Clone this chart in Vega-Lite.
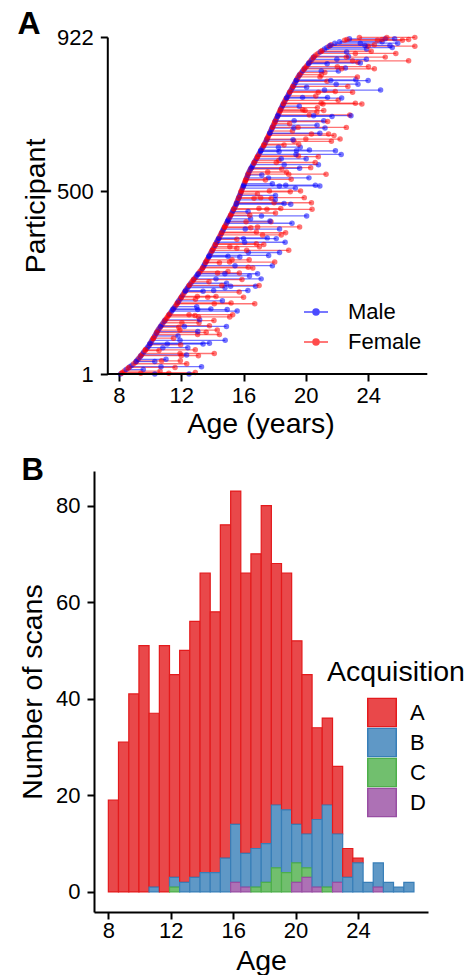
{
  "$schema": "https://vega.github.io/schema/vega-lite/v6.json",
  "padding": {"left": 17, "top": 8, "right": 0, "bottom": 0},
  "background": "white",
  "config": {
    "font": "Liberation Sans",
    "view": {"stroke": null},
    "axis": {"grid": false, "domainColor": "black", "domainWidth": 2, "tickColor": "black", "tickWidth": 2, "tickSize": 7, "labelFontSize": 22, "labelColor": "black", "labelPadding": 7, "titleFontSize": 28.5, "titleFontWeight": "normal", "titleColor": "black", "labelFlush": false, "labelOverlap": false},
    "axisY": {"titlePadding": 6},
    "legend": {"labelFontSize": 22, "labelColor": "black", "titleFontSize": 28.5, "titleFontWeight": "normal", "titleColor": "black", "padding": 0}
  },
  "datasets": {
    "parts": [
      {"p":1,"s":"Male","a":[8.10,10.3,12.5]},
      {"p":5,"s":"Female","a":[8.22,12.9]},
      {"p":9,"s":"Female","a":[8.34,10.64]},
      {"p":13,"s":"Male","a":[8.46,9.56]},
      {"p":17,"s":"Female","a":[8.58]},
      {"p":21,"s":"Male","a":[8.70,10.70,13.30]},
      {"p":25,"s":"Male","a":[8.83]},
      {"p":29,"s":"Female","a":[8.95,12.35]},
      {"p":33,"s":"Female","a":[9.07]},
      {"p":37,"s":"Female","a":[9.14,10.74,11.94]},
      {"p":41,"s":"Male","a":[9.22,11.02]},
      {"p":45,"s":"Female","a":[9.29]},
      {"p":49,"s":"Male","a":[9.37]},
      {"p":53,"s":"Male","a":[9.44,12.34]},
      {"p":57,"s":"Female","a":[9.52,11.92,14.12]},
      {"p":61,"s":"Male","a":[9.59]},
      {"p":65,"s":"Female","a":[9.67,10.57]},
      {"p":69,"s":"Female","a":[9.74]},
      {"p":73,"s":"Male","a":[9.82,10.82,12.42]},
      {"p":77,"s":"Male","a":[9.89]},
      {"p":81,"s":"Female","a":[9.96,11.96]},
      {"p":85,"s":"Male","a":[10.01,13.81]},
      {"p":89,"s":"Female","a":[10.07]},
      {"p":93,"s":"Male","a":[10.12,11.92,14.82]},
      {"p":97,"s":"Female","a":[10.18]},
      {"p":101,"s":"Female","a":[10.24]},
      {"p":105,"s":"Male","a":[10.29,11.79]},
      {"p":109,"s":"Female","a":[10.35,13.05,14.45]},
      {"p":113,"s":"Male","a":[10.40]},
      {"p":117,"s":"Male","a":[10.46,13.06]},
      {"p":121,"s":"Female","a":[10.51,11.91,14.31]},
      {"p":125,"s":"Male","a":[10.57]},
      {"p":129,"s":"Female","a":[10.64,11.84]},
      {"p":133,"s":"Female","a":[10.71,13.81]},
      {"p":137,"s":"Male","a":[10.77]},
      {"p":141,"s":"Female","a":[10.84,12.04,13.14]},
      {"p":145,"s":"Male","a":[10.91]},
      {"p":149,"s":"Male","a":[10.98,13.18]},
      {"p":153,"s":"Female","a":[11.05]},
      {"p":157,"s":"Female","a":[11.11,13.11,15.11]},
      {"p":161,"s":"Female","a":[11.18,12.88]},
      {"p":165,"s":"Male","a":[11.25]},
      {"p":169,"s":"Female","a":[11.32]},
      {"p":173,"s":"Male","a":[11.39,15.59]},
      {"p":177,"s":"Male","a":[11.45,13.05,14.95]},
      {"p":181,"s":"Female","a":[11.52]},
      {"p":185,"s":"Male","a":[11.59,12.99]},
      {"p":189,"s":"Female","a":[11.66]},
      {"p":193,"s":"Female","a":[11.72,14.12,16.72]},
      {"p":197,"s":"Male","a":[11.78]},
      {"p":201,"s":"Male","a":[11.84,14.64]},
      {"p":205,"s":"Female","a":[11.91,12.91]},
      {"p":209,"s":"Male","a":[11.97]},
      {"p":213,"s":"Female","a":[12.03,13.03,14.23]},
      {"p":217,"s":"Male","a":[12.09]},
      {"p":221,"s":"Female","a":[12.16]},
      {"p":225,"s":"Female","a":[12.22,15.72]},
      {"p":229,"s":"Male","a":[12.28,14.08,16.28]},
      {"p":233,"s":"Female","a":[12.34]},
      {"p":237,"s":"Male","a":[12.41,14.81]},
      {"p":241,"s":"Male","a":[12.47,15.17,16.77]},
      {"p":245,"s":"Female","a":[12.54]},
      {"p":249,"s":"Male","a":[12.61,14.91]},
      {"p":253,"s":"Female","a":[12.68,13.78]},
      {"p":257,"s":"Female","a":[12.76]},
      {"p":261,"s":"Male","a":[12.83,14.23,17.13]},
      {"p":265,"s":"Female","a":[12.91]},
      {"p":269,"s":"Male","a":[12.98,16.38]},
      {"p":273,"s":"Male","a":[13.05]},
      {"p":277,"s":"Female","a":[13.13,14.33,15.73]},
      {"p":281,"s":"Female","a":[13.20,15.00]},
      {"p":285,"s":"Female","a":[13.28]},
      {"p":289,"s":"Male","a":[13.35]},
      {"p":293,"s":"Female","a":[13.40,16.30]},
      {"p":297,"s":"Male","a":[13.45,15.45,17.85]},
      {"p":301,"s":"Male","a":[13.50]},
      {"p":305,"s":"Female","a":[13.55,14.45]},
      {"p":309,"s":"Male","a":[13.61]},
      {"p":313,"s":"Female","a":[13.66,15.26,16.36]},
      {"p":317,"s":"Female","a":[13.71]},
      {"p":321,"s":"Male","a":[13.76,15.76]},
      {"p":325,"s":"Male","a":[13.81,17.61]},
      {"p":329,"s":"Female","a":[13.86]},
      {"p":333,"s":"Male","a":[13.91,16.31,18.31]},
      {"p":337,"s":"Female","a":[13.96]},
      {"p":341,"s":"Male","a":[14.02]},
      {"p":345,"s":"Female","a":[14.07,15.57]},
      {"p":349,"s":"Female","a":[14.12,15.12,17.02]},
      {"p":353,"s":"Male","a":[14.17]},
      {"p":357,"s":"Female","a":[14.22,16.82]},
      {"p":361,"s":"Male","a":[14.27,16.07,18.67]},
      {"p":365,"s":"Male","a":[14.32]},
      {"p":369,"s":"Female","a":[14.37,15.57]},
      {"p":373,"s":"Male","a":[14.42,17.52]},
      {"p":377,"s":"Female","a":[14.47]},
      {"p":381,"s":"Female","a":[14.52,17.22,18.42]},
      {"p":385,"s":"Male","a":[14.57]},
      {"p":389,"s":"Female","a":[14.62,16.82]},
      {"p":393,"s":"Male","a":[14.67]},
      {"p":397,"s":"Male","a":[14.71,16.11,18.31]},
      {"p":401,"s":"Female","a":[14.76,16.46]},
      {"p":405,"s":"Female","a":[14.81]},
      {"p":409,"s":"Female","a":[14.86]},
      {"p":413,"s":"Male","a":[14.91,19.11]},
      {"p":417,"s":"Female","a":[14.96,16.16,17.76]},
      {"p":421,"s":"Male","a":[15.01]},
      {"p":425,"s":"Male","a":[15.05,16.45]},
      {"p":429,"s":"Female","a":[15.10]},
      {"p":433,"s":"Male","a":[15.15,17.15,20.05]},
      {"p":437,"s":"Female","a":[15.20]},
      {"p":441,"s":"Female","a":[15.25,18.05]},
      {"p":445,"s":"Male","a":[15.29,16.29]},
      {"p":449,"s":"Male","a":[15.34]},
      {"p":453,"s":"Female","a":[15.39,16.99,18.39]},
      {"p":457,"s":"Male","a":[15.44]},
      {"p":461,"s":"Female","a":[15.49]},
      {"p":465,"s":"Male","a":[15.53,19.03]},
      {"p":469,"s":"Female","a":[15.56,17.96,20.36]},
      {"p":473,"s":"Female","a":[15.60]},
      {"p":477,"s":"Male","a":[15.64,18.04]},
      {"p":481,"s":"Female","a":[15.67,16.67,17.77]},
      {"p":485,"s":"Male","a":[15.71]},
      {"p":489,"s":"Male","a":[15.75,18.05]},
      {"p":493,"s":"Female","a":[15.79,16.89]},
      {"p":497,"s":"Male","a":[15.82]},
      {"p":501,"s":"Female","a":[15.86,17.66,19.66]},
      {"p":505,"s":"Female","a":[15.90]},
      {"p":509,"s":"Male","a":[15.93,19.33]},
      {"p":513,"s":"Female","a":[15.97]},
      {"p":517,"s":"Male","a":[16.01,18.71,20.61]},
      {"p":521,"s":"Male","a":[16.05,17.85]},
      {"p":525,"s":"Female","a":[16.08]},
      {"p":529,"s":"Female","a":[16.12]},
      {"p":533,"s":"Female","a":[16.16,19.06]},
      {"p":537,"s":"Male","a":[16.20,17.60,20.20]},
      {"p":541,"s":"Female","a":[16.23]},
      {"p":545,"s":"Male","a":[16.27,17.17]},
      {"p":549,"s":"Male","a":[16.31]},
      {"p":553,"s":"Female","a":[16.35,17.55,18.75]},
      {"p":557,"s":"Male","a":[16.40]},
      {"p":561,"s":"Female","a":[16.45,18.45]},
      {"p":565,"s":"Female","a":[16.51,20.31]},
      {"p":569,"s":"Male","a":[16.56]},
      {"p":573,"s":"Male","a":[16.61,18.61,20.81]},
      {"p":577,"s":"Female","a":[16.66]},
      {"p":581,"s":"Male","a":[16.71]},
      {"p":585,"s":"Female","a":[16.77,18.27]},
      {"p":589,"s":"Male","a":[16.82,18.42,20.02]},
      {"p":593,"s":"Female","a":[16.87]},
      {"p":597,"s":"Female","a":[16.92,19.52]},
      {"p":601,"s":"Male","a":[16.97,19.37,22.27]},
      {"p":605,"s":"Female","a":[17.03]},
      {"p":609,"s":"Male","a":[17.08,18.28]},
      {"p":613,"s":"Male","a":[17.13,20.23]},
      {"p":617,"s":"Female","a":[17.18]},
      {"p":621,"s":"Male","a":[17.24,18.24,19.64]},
      {"p":625,"s":"Female","a":[17.29]},
      {"p":629,"s":"Female","a":[17.34,19.54]},
      {"p":633,"s":"Male","a":[17.39]},
      {"p":637,"s":"Female","a":[17.44,19.24,21.64]},
      {"p":641,"s":"Male","a":[17.48,19.18]},
      {"p":645,"s":"Male","a":[17.53]},
      {"p":649,"s":"Female","a":[17.57]},
      {"p":653,"s":"Female","a":[17.61,21.81]},
      {"p":657,"s":"Female","a":[17.66,20.36,21.46]},
      {"p":661,"s":"Male","a":[17.70]},
      {"p":665,"s":"Female","a":[17.74,19.14]},
      {"p":669,"s":"Male","a":[17.79]},
      {"p":673,"s":"Male","a":[17.83,19.23,21.23]},
      {"p":677,"s":"Female","a":[17.87]},
      {"p":681,"s":"Male","a":[17.92,20.72]},
      {"p":685,"s":"Female","a":[17.96,18.96]},
      {"p":689,"s":"Female","a":[18.00]},
      {"p":693,"s":"Male","a":[18.05,19.25,21.15]},
      {"p":697,"s":"Male","a":[18.09]},
      {"p":701,"s":"Female","a":[18.13]},
      {"p":705,"s":"Male","a":[18.18,21.68]},
      {"p":709,"s":"Female","a":[18.22,20.22,22.82]},
      {"p":713,"s":"Male","a":[18.26]},
      {"p":717,"s":"Female","a":[18.31,20.71]},
      {"p":721,"s":"Female","a":[18.35,19.95,21.15]},
      {"p":725,"s":"Male","a":[18.39]},
      {"p":729,"s":"Female","a":[18.44,20.74]},
      {"p":733,"s":"Male","a":[18.48,19.58]},
      {"p":737,"s":"Male","a":[18.53]},
      {"p":741,"s":"Female","a":[18.58,20.98,23.18]},
      {"p":745,"s":"Male","a":[18.63]},
      {"p":749,"s":"Female","a":[18.68,22.08]},
      {"p":753,"s":"Female","a":[18.73]},
      {"p":757,"s":"Male","a":[18.79,19.79,21.39]},
      {"p":761,"s":"Female","a":[18.84,20.64]},
      {"p":765,"s":"Male","a":[18.89]},
      {"p":769,"s":"Male","a":[18.94]},
      {"p":773,"s":"Female","a":[18.99,21.89]},
      {"p":777,"s":"Male","a":[19.05,21.2,24.8]},
      {"p":781,"s":"Female","a":[19.10]},
      {"p":785,"s":"Male","a":[19.15,20.05]},
      {"p":789,"s":"Female","a":[19.20]},
      {"p":793,"s":"Male","a":[19.25,21.95,23.35]},
      {"p":797,"s":"Male","a":[19.31]},
      {"p":801,"s":"Female","a":[19.36,21.36]},
      {"p":805,"s":"Male","a":[19.41,23.21]},
      {"p":809,"s":"Female","a":[19.46]},
      {"p":813,"s":"Female","a":[19.51,20.91,23.31]},
      {"p":817,"s":"Male","a":[19.57]},
      {"p":821,"s":"Male","a":[19.64]},
      {"p":825,"s":"Female","a":[19.72,21.22]},
      {"p":829,"s":"Male","a":[19.79,20.99,22.09]},
      {"p":833,"s":"Female","a":[19.87]},
      {"p":837,"s":"Male","a":[19.94,22.54]},
      {"p":841,"s":"Female","a":[20.02,22.02,24.02]},
      {"p":845,"s":"Female","a":[20.09]},
      {"p":849,"s":"Male","a":[20.17,21.37]},
      {"p":853,"s":"Female","a":[20.24,23.34]},
      {"p":857,"s":"Female","a":[20.32,23.0,26.6]},
      {"p":861,"s":"Male","a":[20.39,21.99,23.89]},
      {"p":865,"s":"Female","a":[20.47]},
      {"p":869,"s":"Male","a":[20.54,22.74]},
      {"p":873,"s":"Female","a":[20.64]},
      {"p":877,"s":"Female","a":[20.78,23.18,25.78]},
      {"p":881,"s":"Male","a":[20.92,22.62]},
      {"p":885,"s":"Female","a":[21.06]},
      {"p":889,"s":"Male","a":[21.20,23.9]},
      {"p":893,"s":"Male","a":[21.35,25.55]},
      {"p":897,"s":"Female","a":[21.49,24.0,27.0]},
      {"p":901,"s":"Female","a":[21.63,24.4]},
      {"p":905,"s":"Male","a":[21.86,23.5,25.9]},
      {"p":909,"s":"Male","a":[22.17,24.9]},
      {"p":913,"s":"Female","a":[22.49,24.6,26.2]},
      {"p":917,"s":"Male","a":[22.80,25.1,25.7]},
      {"p":921,"s":"Female","a":[23.44,25.2,27.0]},
      {"p":3,"s":"Female","a":[8.16,9.4,11.2]},
      {"p":19,"s":"Female","a":[8.64,11.6]},
      {"p":35,"s":"Male","a":[9.10,10.3]},
      {"p":51,"s":"Female","a":[9.40,12.0,13.1]},
      {"p":67,"s":"Female","a":[9.70,12.9]},
      {"p":83,"s":"Male","a":[9.98,11.1,13.4]},
      {"p":99,"s":"Female","a":[10.21,11.5]},
      {"p":115,"s":"Female","a":[10.43,13.6]},
      {"p":131,"s":"Male","a":[10.67,12.2,14.9]},
      {"p":147,"s":"Female","a":[10.94,14.1]},
      {"p":163,"s":"Female","a":[11.21,12.5,15.3]},
      {"p":179,"s":"Male","a":[11.49,13.9]},
      {"p":195,"s":"Female","a":[11.75,15.2]},
      {"p":211,"s":"Female","a":[12.00,13.7,16.0]},
      {"p":227,"s":"Male","a":[12.25,13.4]},
      {"p":243,"s":"Female","a":[12.50,14.6,17.0]},
      {"p":259,"s":"Female","a":[12.79,15.9]},
      {"p":275,"s":"Male","a":[13.09,14.8,16.9]},
      {"p":291,"s":"Female","a":[13.37,16.6]},
      {"p":307,"s":"Female","a":[13.58,15.1,18.0]},
      {"p":323,"s":"Male","a":[13.78,15.0]},
      {"p":339,"s":"Female","a":[13.99,16.2,18.9]},
      {"p":355,"s":"Female","a":[14.19,17.3]},
      {"p":371,"s":"Male","a":[14.40,16.0,18.1]},
      {"p":387,"s":"Female","a":[14.59,18.7]},
      {"p":403,"s":"Female","a":[14.78,16.9,19.6]},
      {"p":419,"s":"Male","a":[14.98,17.7]},
      {"p":435,"s":"Female","a":[15.17,16.4]},
      {"p":451,"s":"Female","a":[15.36,17.5,20.4]},
      {"p":467,"s":"Male","a":[15.54,18.6]},
      {"p":483,"s":"Female","a":[15.69,17.1,19.9]},
      {"p":499,"s":"Female","a":[15.84,19.0]},
      {"p":515,"s":"Male","a":[15.99,18.3,20.9]},
      {"p":531,"s":"Female","a":[16.14,17.4]},
      {"p":547,"s":"Female","a":[16.29,18.9,21.3]},
      {"p":563,"s":"Male","a":[16.48,19.6]},
      {"p":579,"s":"Female","a":[16.68,18.1,20.6]},
      {"p":595,"s":"Female","a":[16.89,20.8]},
      {"p":611,"s":"Male","a":[17.10,19.4,21.9]},
      {"p":627,"s":"Female","a":[17.31,18.6]},
      {"p":643,"s":"Female","a":[17.50,20.0,22.2]},
      {"p":659,"s":"Male","a":[17.68,20.9]},
      {"p":675,"s":"Female","a":[17.85,19.5,22.6]},
      {"p":691,"s":"Female","a":[18.02,21.4]},
      {"p":707,"s":"Male","a":[18.20,20.5,22.9]},
      {"p":723,"s":"Female","a":[18.37,19.8]},
      {"p":739,"s":"Female","a":[18.55,21.1,23.6]},
      {"p":755,"s":"Male","a":[18.76,22.3]},
      {"p":771,"s":"Female","a":[18.96,20.8,23.0]},
      {"p":787,"s":"Female","a":[19.17,22.7]},
      {"p":803,"s":"Male","a":[19.38,21.6,24.0]},
      {"p":819,"s":"Female","a":[19.60,21.0]},
      {"p":835,"s":"Female","a":[19.90,22.3,24.4]},
      {"p":851,"s":"Male","a":[20.20,23.5]},
      {"p":867,"s":"Female","a":[20.50,22.6,25.1]},
      {"p":883,"s":"Female","a":[20.99,24.2]},
      {"p":899,"s":"Male","a":[21.56,23.8,25.4]},
      {"p":915,"s":"Female","a":[22.64,24.9,26.6]}
    ],
    "hist": [
      {"x0":8.00,"x1":8.65,"g":"A","n":19},
      {"x0":8.65,"x1":9.31,"g":"A","n":31},
      {"x0":9.31,"x1":9.96,"g":"A","n":41},
      {"x0":9.96,"x1":10.61,"g":"A","n":51},
      {"x0":10.61,"x1":11.27,"g":"A","n":36},
      {"x0":10.61,"x1":11.27,"g":"B","n":1},
      {"x0":11.27,"x1":11.92,"g":"A","n":51},
      {"x0":11.92,"x1":12.57,"g":"A","n":42},
      {"x0":11.92,"x1":12.57,"g":"B","n":2},
      {"x0":11.92,"x1":12.57,"g":"C","n":1},
      {"x0":12.57,"x1":13.22,"g":"A","n":48},
      {"x0":12.57,"x1":13.22,"g":"B","n":2},
      {"x0":13.22,"x1":13.88,"g":"A","n":53},
      {"x0":13.22,"x1":13.88,"g":"B","n":3},
      {"x0":13.88,"x1":14.53,"g":"A","n":62},
      {"x0":13.88,"x1":14.53,"g":"B","n":4},
      {"x0":14.53,"x1":15.18,"g":"A","n":54},
      {"x0":14.53,"x1":15.18,"g":"B","n":4},
      {"x0":15.18,"x1":15.84,"g":"A","n":69},
      {"x0":15.18,"x1":15.84,"g":"B","n":7},
      {"x0":15.84,"x1":16.49,"g":"A","n":69},
      {"x0":15.84,"x1":16.49,"g":"B","n":12},
      {"x0":15.84,"x1":16.49,"g":"D","n":2},
      {"x0":16.49,"x1":17.14,"g":"A","n":58},
      {"x0":16.49,"x1":17.14,"g":"B","n":7},
      {"x0":16.49,"x1":17.14,"g":"D","n":1},
      {"x0":17.14,"x1":17.80,"g":"A","n":61},
      {"x0":17.14,"x1":17.80,"g":"B","n":8},
      {"x0":17.14,"x1":17.80,"g":"C","n":1},
      {"x0":17.80,"x1":18.45,"g":"A","n":70},
      {"x0":17.80,"x1":18.45,"g":"B","n":8},
      {"x0":17.80,"x1":18.45,"g":"C","n":2},
      {"x0":18.45,"x1":19.10,"g":"A","n":50},
      {"x0":18.45,"x1":19.10,"g":"B","n":13},
      {"x0":18.45,"x1":19.10,"g":"C","n":5},
      {"x0":19.10,"x1":19.75,"g":"A","n":49},
      {"x0":19.10,"x1":19.75,"g":"B","n":13},
      {"x0":19.10,"x1":19.75,"g":"C","n":4},
      {"x0":19.75,"x1":20.41,"g":"A","n":38},
      {"x0":19.75,"x1":20.41,"g":"B","n":8},
      {"x0":19.75,"x1":20.41,"g":"C","n":4},
      {"x0":19.75,"x1":20.41,"g":"D","n":2},
      {"x0":20.41,"x1":21.06,"g":"A","n":33},
      {"x0":20.41,"x1":21.06,"g":"B","n":7},
      {"x0":20.41,"x1":21.06,"g":"C","n":2},
      {"x0":20.41,"x1":21.06,"g":"D","n":3},
      {"x0":21.06,"x1":21.71,"g":"A","n":19},
      {"x0":21.06,"x1":21.71,"g":"B","n":14},
      {"x0":21.06,"x1":21.71,"g":"D","n":1},
      {"x0":21.71,"x1":22.37,"g":"A","n":18},
      {"x0":21.71,"x1":22.37,"g":"B","n":17},
      {"x0":21.71,"x1":22.37,"g":"C","n":1},
      {"x0":22.37,"x1":23.02,"g":"A","n":14},
      {"x0":22.37,"x1":23.02,"g":"B","n":10},
      {"x0":22.37,"x1":23.02,"g":"D","n":2},
      {"x0":23.02,"x1":23.67,"g":"A","n":6},
      {"x0":23.02,"x1":23.67,"g":"B","n":3},
      {"x0":23.67,"x1":24.33,"g":"A","n":1},
      {"x0":23.67,"x1":24.33,"g":"B","n":6},
      {"x0":24.33,"x1":24.98,"g":"B","n":2},
      {"x0":24.98,"x1":25.63,"g":"B","n":5},
      {"x0":24.98,"x1":25.63,"g":"D","n":1},
      {"x0":25.63,"x1":26.28,"g":"B","n":2},
      {"x0":26.28,"x1":26.94,"g":"B","n":1},
      {"x0":26.94,"x1":27.59,"g":"B","n":2}
    ]
  },
  "spacing": 17,
  "resolve": {
    "scale": {"color": "independent", "fill": "independent", "stroke": "independent"},
    "legend": {"color": "independent", "fill": "independent", "stroke": "independent"}
  },
  "vconcat": [
    {
      "width": 333.3,
      "height": 337,
      "title": {"text": "A", "anchor": "start", "frame": "bounds", "fontSize": 32, "fontWeight": "bold", "color": "black", "offset": -15, "dx": -4},
      "layer": [
        {
          "data": {"name": "parts"},
          "transform": [{"flatten": ["a"]}],
          "encoding": {
            "x": {"field": "a", "type": "quantitative", "scale": {"domain": [6.395, 27.8], "nice": false, "zero": false}, "axis": {"values": [8, 12, 16, 20, 24], "title": "Age (years)", "labelPadding": 4, "titlePadding": 3, "domain": false}},
            "y": {"field": "p", "type": "quantitative", "scale": {"domain": [1, 922], "nice": false, "zero": false}, "axis": {"values": [1, 500, 922], "title": "Participant", "offset": -13.3}},
            "color": {
              "field": "s", "type": "nominal",
              "scale": {"domain": ["Male", "Female"], "range": ["#0000ff", "#ff0000"]},
              "legend": {"title": null, "orient": "none", "legendX": 209, "legendY": 262, "symbolType": "M-1,0H1M-0.25,0A0.25,0.25,0,1,1,0.25,0A0.25,0.25,0,1,1,-0.25,0Z", "symbolSize": 576, "symbolStrokeWidth": 1.5, "symbolOpacity": 0.7, "labelOffset": 19, "rowPadding": 6, "labelFontSize": 22}
            }
          },
          "layer": [
            {"mark": {"type": "line", "strokeWidth": 1.3, "opacity": 0.55}, "encoding": {"detail": {"field": "p", "type": "nominal"}}},
            {"mark": {"type": "point", "filled": true, "size": 30, "opacity": 0.55}}
          ]
        },
        {
          "data": {"values": [{}]},
          "mark": {"type": "rule", "color": "black", "strokeWidth": 2},
          "encoding": {
            "x": {"datum": 7.25, "type": "quantitative"},
            "x2": {"datum": 27.8},
            "y": {"datum": 1, "type": "quantitative"}
          }
        }
      ]
    },
    {
      "width": 334,
      "height": 441,
      "title": {"text": "B", "anchor": "start", "frame": "bounds", "fontSize": 31, "fontWeight": "bold", "color": "black", "offset": -16, "dx": 3},
      "data": {"name": "hist"},
      "transform": [{"stack": "n", "groupby": ["x0"], "sort": [{"field": "g", "order": "descending"}], "as": ["y0", "y1"]}],
      "mark": {"type": "bar", "strokeWidth": 1.2},
      "encoding": {
        "x": {"field": "x0", "type": "quantitative", "scale": {"domain": [7.08, 28.49], "nice": false, "zero": false}, "axis": {"values": [8, 12, 16, 20, 24], "title": "Age", "labelPadding": 1, "titlePadding": 5}},
        "x2": {"field": "x1"},
        "y": {"field": "y0", "type": "quantitative", "scale": {"domain": [-4.15, 87.15], "nice": false, "zero": false}, "axis": {"values": [0, 20, 40, 60, 80], "title": "Number of scans", "titlePadding": 8}},
        "y2": {"field": "y1"},
        "fill": {
          "field": "g", "type": "nominal",
          "scale": {"domain": ["A", "B", "C", "D"], "range": ["#e9484a", "#5f98c6", "#71bf6e", "#ad71b5"]},
          "legend": {"title": "Acquisition", "orient": "none", "legendX": 233, "legendY": 187, "symbolType": "square", "symbolSize": 812, "symbolStrokeWidth": 1.5, "labelOffset": 13, "rowPadding": 0, "clipHeight": 30, "titleAnchor": "middle", "titleAlign": "center", "titlePadding": 11, "titleFontSize": 28.5, "labelFontSize": 22}
        },
        "stroke": {
          "field": "g", "type": "nominal",
          "scale": {"domain": ["A", "B", "C", "D"], "range": ["#e41a1c", "#377eb8", "#4daf4a", "#984ea3"]},
          "legend": {"title": "Acquisition", "orient": "none", "legendX": 233, "legendY": 187, "symbolType": "square", "symbolSize": 812, "symbolStrokeWidth": 1.5, "labelOffset": 13, "rowPadding": 0, "clipHeight": 30, "titleAnchor": "middle", "titleAlign": "center", "titlePadding": 11, "titleFontSize": 28.5, "labelFontSize": 22}
        }
      }
    }
  ]
}
